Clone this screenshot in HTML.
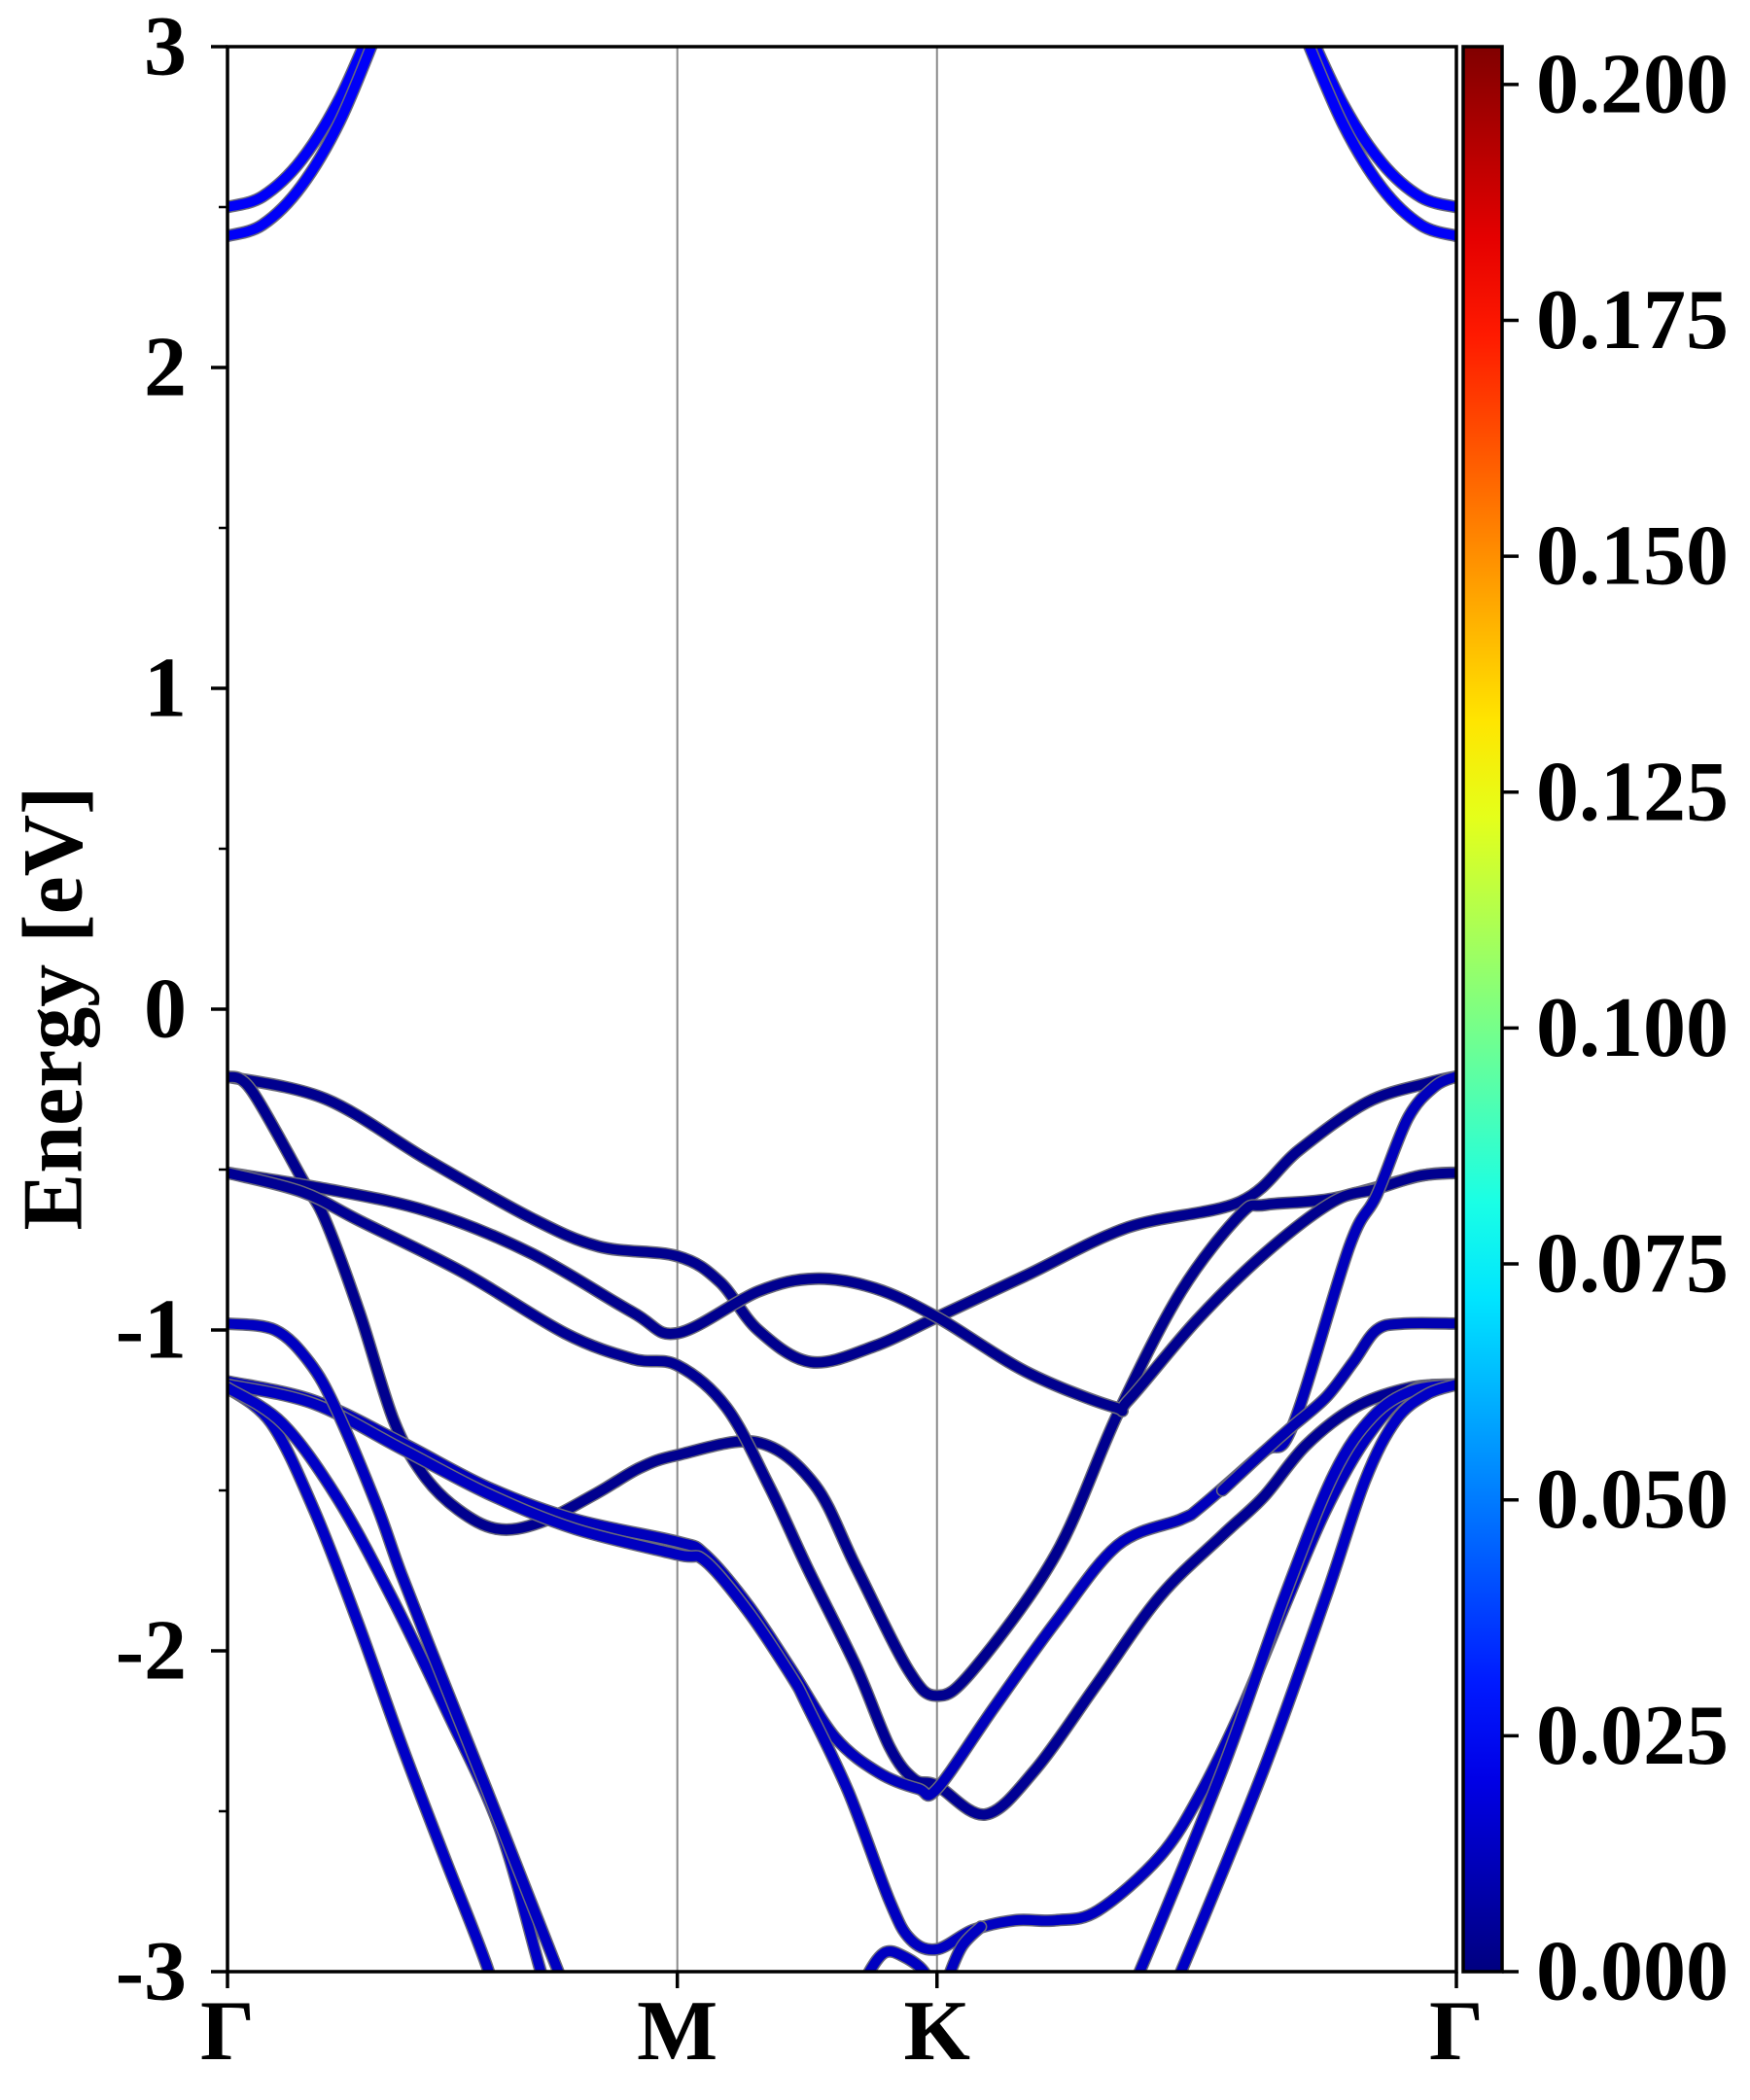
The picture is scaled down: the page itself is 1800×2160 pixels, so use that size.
<!DOCTYPE html>
<html><head><meta charset="utf-8"><title>Band structure</title>
<style>html,body{margin:0;padding:0;background:#fff;}svg{display:block;}
text{font-family:"Liberation Serif","DejaVu Serif",serif;font-weight:bold;}</style></head>
<body>
<svg id="chart" width="1800" height="2160" viewBox="0 0 1800 2160" xmlns="http://www.w3.org/2000/svg">
<defs>
<clipPath id="plotclip"><rect x="234" y="48" width="1264" height="1980"/></clipPath>
<linearGradient id="jetgrad" x1="0" y1="1" x2="0" y2="0"></linearGradient>
</defs>
<rect x="0" y="0" width="1800" height="2160" fill="#fff"/>
<g id="vlines"></g>
<g id="bands" clip-path="url(#plotclip)"></g>
<g id="axes"></g>
<g id="cbar"></g>
<text x="0" y="0" font-size="88" text-anchor="middle" dominant-baseline="central" transform="translate(55,1037) rotate(-90)">Energy [eV]</text>
</svg>
<script>
// ---- data ----
const kLabels = ["Γ","M","K","Γ"];
const kTicks = [0, 0.5774, 0.9107, 1.5774];
const yTicks = [-3,-2,-1,0,1,2,3];
const yMinor = [-2.5,-1.5,-0.5,0.5,1.5,2.5];
const cbTicks = [0,0.025,0.05,0.075,0.1,0.125,0.15,0.175,0.2];
const cbTickLabels = ["0.000","0.025","0.050","0.075","0.100","0.125","0.150","0.175","0.200"];

const bandA_k = [0,0.126,0.257,0.389,0.477,0.5774,0.632,0.681,0.749,0.831,0.9107,1.025,1.156,1.300,1.375,1.463,1.541,1.5774];
const bandA_E = [-0.21,-0.28,-0.47,-0.65,-0.74,-0.77,-0.85,-1.00,-1.10,-1.05,-0.96,-0.83,-0.68,-0.60,-0.44,-0.29,-0.23,-0.21];
const bandB_k = [0,0.030,0.096,0.126,0.170,0.213,0.251,0.296,0.346,0.401,0.473,0.529,0.5774,0.680,0.753,0.807,0.874,0.9107,0.957,1.063,1.143,1.224,1.300,1.332,1.419,1.530,1.5774];
const bandB_E = [-0.21,-0.25,-0.53,-0.66,-0.95,-1.28,-1.45,-1.56,-1.62,-1.60,-1.51,-1.43,-1.39,-1.35,-1.48,-1.74,-2.06,-2.14,-2.06,-1.70,-1.26,-0.88,-0.64,-0.61,-0.59,-0.52,-0.51];
const bandC_k = [0,0.126,0.257,0.389,0.520,0.5774,0.681,0.754,0.831,0.9107,1.025,1.138,1.156,1.244,1.332,1.419,1.475,1.529,1.5774];
const bandC_E = [-0.51,-0.56,-0.63,-0.76,-0.945,-1.01,-0.88,-0.84,-0.87,-0.96,-1.13,-1.24,-1.22,-0.97,-0.76,-0.60,-0.56,-0.52,-0.51];
const bandD_k = [0,0.096,0.170,0.302,0.433,0.520,0.5774,0.640,0.696,0.744,0.807,0.850,0.881,0.9107,0.973,1.037,1.117,1.197,1.277,1.330,1.384,1.448,1.518,1.5774];
const bandD_E = [-0.51,-0.57,-0.66,-0.82,-1.01,-1.09,-1.11,-1.24,-1.49,-1.74,-2.05,-2.30,-2.40,-2.42,-2.51,-2.37,-2.10,-1.83,-1.64,-1.52,-1.36,-1.24,-1.18,-1.17];
const bandG1_k = [0,0.111,0.223,0.334,0.446,0.5774,0.613,0.669,0.724,0.780,0.836,0.887,0.9107,0.983,1.063,1.143,1.224,1.250,1.330,1.367,1.440,1.475,1.515,1.550,1.5774];
const bandG1_E = [-1.16,-1.22,-1.35,-1.49,-1.59,-1.66,-1.70,-1.86,-2.06,-2.27,-2.38,-2.43,-2.43,-2.18,-1.91,-1.67,-1.59,-1.55,-1.38,-1.30,-0.74,-0.58,-0.34,-0.24,-0.21];
const bandG2_k = [0,0.111,0.223,0.334,0.446,0.5774,0.613,0.669,0.724,0.744,0.797,0.850,0.877,0.9107,0.957,1.011,1.063,1.117,1.197,1.250,1.304,1.357,1.410,1.464,1.518,1.5774];
const bandG2_E = [-1.17,-1.23,-1.37,-1.51,-1.62,-1.70,-1.72,-1.88,-2.08,-2.17,-2.44,-2.78,-2.90,-2.93,-2.87,-2.84,-2.84,-2.81,-2.64,-2.44,-2.17,-1.86,-1.56,-1.33,-1.19,-1.17];
const bandR_k = [1.277,1.330,1.367,1.410,1.445,1.475,1.510,1.5774];
const bandR_E = [-1.50,-1.38,-1.30,-1.21,-1.10,-1.00,-0.98,-0.98];
const bandS1_k = [0,0.056,0.111,0.167,0.223,0.278,0.334,0.357];
const bandS1_E = [-1.18,-1.29,-1.56,-1.91,-2.29,-2.64,-2.99,-3.2];
const bandS2_k = [0,0.070,0.140,0.210,0.280,0.349,0.401,0.426];
const bandS2_E = [-1.18,-1.29,-1.52,-1.83,-2.18,-2.55,-2.99,-3.2];
const bandS3_k = [0,0.061,0.105,0.140,0.192,0.223,0.278,0.334,0.389,0.423,0.444];
const bandS3_E = [-0.98,-1.00,-1.10,-1.25,-1.55,-1.76,-2.10,-2.44,-2.78,-2.99,-3.12];
const bandT1_k = [1.149,1.171,1.277,1.357,1.420,1.470,1.520,1.5774];
const bandT1_E = [-3.1,-3.0,-2.37,-1.83,-1.45,-1.27,-1.19,-1.17];
const bandT2_k = [1.203,1.224,1.330,1.410,1.460,1.500,1.540,1.5774];
const bandT2_E = [-3.1,-3.0,-2.37,-1.83,-1.47,-1.28,-1.20,-1.17];
const bandBump_k = [0.806,0.824,0.844,0.866,0.894,0.912];
const bandBump_E = [-3.1,-3.0,-2.94,-2.95,-3.0,-3.1];
const bandKr_k = [0.916,0.925,0.943,0.967];
const bandKr_E = [-3.1,-3.02,-2.92,-2.86];
const condL1_k = [0,0.045,0.095,0.145,0.195];
const condL1_E = [2.50,2.533,2.647,2.843,3.12];
const condL2_k = [0,0.045,0.095,0.145,0.195];
const condL2_E = [2.41,2.445,2.566,2.772,3.065];
const condR1_k = [1.382,1.432,1.482,1.532,1.5774];
const condR1_E = [3.08,2.82,2.637,2.531,2.50];
const condR2_k = [1.382,1.432,1.482,1.532,1.5774];
const condR2_E = [3.04,2.758,2.559,2.444,2.41];
const bandWeights = [0.003,0.003,0.003,0.004,0.012,0.013,0.010,0.014,0.014,0.013,0.014,0.014,0.013,0.013,0.024,0.024,0.024,0.024];

// ---- scales ----
const X0=234, X1=1498, Y0=48, Y1=2028;
const kMax = 1.5774, eMin=-3, eMax=3;
function xs(k){ return X0 + (k/kMax)*(X1-X0); }
function ys(e){ return Y1 - (e-eMin)/(eMax-eMin)*(Y1-Y0); }
const cbMax = 0.204;
const CBX0=1505, CBX1=1545;
function cby(v){ return Y1 - (v/cbMax)*(Y1-Y0); }
function jet(t){
  const c=v=>Math.max(0,Math.min(1,v));
  const r=c(1.5-Math.abs(4*t-3)), g=c(1.5-Math.abs(4*t-2)), b=c(1.5-Math.abs(4*t-1));
  return `rgb(${Math.round(r*255)},${Math.round(g*255)},${Math.round(b*255)})`;
}
const NS="http://www.w3.org/2000/svg";
function mk(tag, attrs, parent){
  const el=document.createElementNS(NS,tag);
  for(const k in attrs) el.setAttribute(k, attrs[k]);
  parent.appendChild(el); return el;
}
function smoothPath(pts){
  let d=`M${pts[0][0].toFixed(1)},${pts[0][1].toFixed(1)}`;
  for(let i=0;i<pts.length-1;i++){
    const p0=pts[Math.max(0,i-1)], p1=pts[i], p2=pts[i+1], p3=pts[Math.min(pts.length-1,i+2)];
    const c1=[p1[0]+(p2[0]-p0[0])/6, p1[1]+(p2[1]-p0[1])/6];
    const c2=[p2[0]-(p3[0]-p1[0])/6, p2[1]-(p3[1]-p1[1])/6];
    d+=` C${c1[0].toFixed(1)},${c1[1].toFixed(1)} ${c2[0].toFixed(1)},${c2[1].toFixed(1)} ${p2[0].toFixed(1)},${p2[1].toFixed(1)}`;
  }
  return d;
}

// ---- vertical high-symmetry lines ----
const vg=document.getElementById('vlines');
[1,2].forEach(i=>{
  const l=mk('line',{x1:xs(kTicks[i]),x2:xs(kTicks[i]),y1:Y0,y2:Y1,stroke:'#8a8a8a','stroke-width':2},vg);
  
  
});

// ---- bands ----
const bandsK=[bandA_k,bandB_k,bandC_k,bandD_k,bandG1_k,bandG2_k,bandR_k,bandS1_k,bandS2_k,bandS3_k,bandT1_k,bandT2_k,bandBump_k,bandKr_k,condL1_k,condL2_k,condR1_k,condR2_k];
const bandsE=[bandA_E,bandB_E,bandC_E,bandD_E,bandG1_E,bandG2_E,bandR_E,bandS1_E,bandS2_E,bandS3_E,bandT1_E,bandT2_E,bandBump_E,bandKr_E,condL1_E,condL2_E,condR1_E,condR2_E];
const bg=document.getElementById('bands');
bandsK.forEach((ks,i)=>{
  const pts=ks.map((k,j)=>[xs(k),ys(bandsE[i][j])]);
  const d=smoothPath(pts);
  const g=mk('g',{},bg);
  
  
  mk('path',{d:d,fill:'none',stroke:'#6a6a7a','stroke-width':13,'stroke-linecap':'round','stroke-linejoin':'round'},g);
  mk('path',{d:d,fill:'none',stroke:jet(bandWeights[i]/cbMax),'stroke-width':10,'stroke-linecap':'round','stroke-linejoin':'round'},g);
});

// ---- axes ----
const ag=document.getElementById('axes');
const frame=mk('rect',{x:X0,y:Y0,width:X1-X0,height:Y1-Y0,fill:'none',stroke:'#000','stroke-width':3.5},ag);


yTicks.forEach(v=>{
  mk('line',{x1:X0-17,x2:X0,y1:ys(v),y2:ys(v),stroke:'#000','stroke-width':3.5},ag);
  const t=mk('text',{x:192,y:ys(v),'font-size':88,'text-anchor':'end','dominant-baseline':'central'},ag);
  t.textContent=String(v);
  
  
});
yMinor.forEach(v=>{
  mk('line',{x1:X0-9,x2:X0,y1:ys(v),y2:ys(v),stroke:'#000','stroke-width':2.5},ag);
});
kTicks.forEach((k,i)=>{
  mk('line',{x1:xs(k),x2:xs(k),y1:Y1,y2:Y1+17,stroke:'#000','stroke-width':3.5},ag);
  const t=mk('text',{x:xs(k),y:2118,'font-size':88,'text-anchor':'middle'},ag);
  t.textContent=kLabels[i];
  
  
});

// ---- colorbar ----
const grad=document.getElementById('jetgrad');
for(let i=0;i<=20;i++){
  const t=i/20;
  mk('stop',{offset:t,'stop-color':jet(t)},grad);
}
const cg=document.getElementById('cbar');


mk('rect',{x:CBX0,y:Y0,width:CBX1-CBX0,height:Y1-Y0,fill:'url(#jetgrad)',stroke:'#000','stroke-width':3.5},cg);
cbTicks.forEach((v,i)=>{
  mk('line',{x1:CBX1,x2:CBX1+17,y1:cby(v),y2:cby(v),stroke:'#000','stroke-width':3.5},cg);
  const t=mk('text',{x:1580,y:cby(v),'font-size':88,'dominant-baseline':'central'},cg);
  t.textContent=cbTickLabels[i];
  
  
});
</script>
</body></html>
